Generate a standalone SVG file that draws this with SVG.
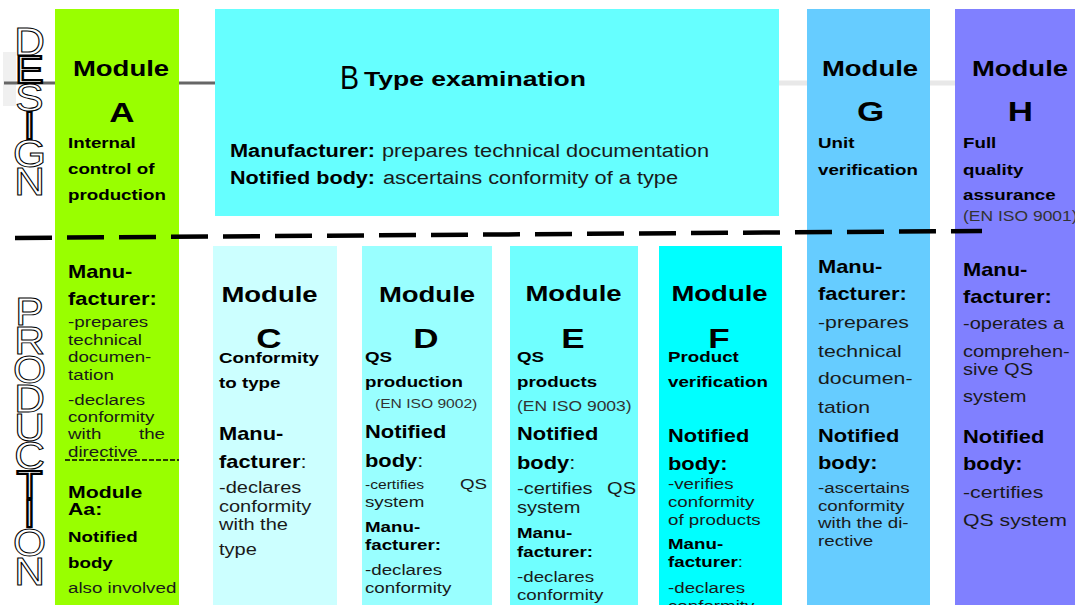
<svg xmlns="http://www.w3.org/2000/svg" width="1075" height="605" viewBox="0 0 1075 605">
<style>
text{font-family:"Liberation Sans",Arial,sans-serif}
.b{font-weight:bold;fill:#000}
.n{font-weight:normal;fill:#1a1a1a}
.mod{font-size:22px}
.let{font-size:28px}
.sub{font-size:15px}
.hd{font-size:17.5px}
.c{text-anchor:middle}
.e{text-anchor:end}
.iso{fill:#333}
.out{font-size:38px;fill:#fff;stroke:#000;stroke-width:1;text-anchor:middle;font-weight:normal}
.thk{stroke-width:2.2}
</style>
<rect width="1075" height="605" fill="#fff"/>
<rect x="3" y="52" width="13" height="54" fill="#f0f0f0"/>
<line x1="779" y1="83" x2="1075" y2="83" stroke="#e8e8e8" stroke-width="5"/>
<line x1="4" y1="83" x2="215" y2="83" stroke="#666" stroke-width="3"/>
<g id="labels">
<text class="out" transform="translate(29.5,0) scale(1.12,1)"><tspan x="0" y="55">D</tspan><tspan x="0" y="83" class="thk">E</tspan><tspan x="0" y="111">S</tspan><tspan x="0" y="139" class="thk">I</tspan><tspan x="0" y="167">G</tspan><tspan x="0" y="195">N</tspan></text>
<text class="out" transform="translate(29.5,0) scale(1.12,1)"><tspan x="0" y="325">P</tspan><tspan x="0" y="354">R</tspan><tspan x="0" y="383">O</tspan><tspan x="0" y="412">D</tspan><tspan x="0" y="441">U</tspan><tspan x="0" y="469">C</tspan><tspan x="0" y="498" class="thk">T</tspan><tspan x="0" y="527" class="thk">I</tspan><tspan x="0" y="556">O</tspan><tspan x="0" y="585">N</tspan></text>
</g>
<g id="moduleA">
<rect x="55" y="9" width="124" height="596" fill="#99ff00"/>
<g transform="translate(68,0) scale(1.25,1)">
<text class="b mod c" x="42.4" y="76">Module</text>
<text class="b let c" x="43.2" y="122">A</text>
<text class="b sub" x="0" y="148">Internal</text>
<text class="b sub" x="0" y="174">control of</text>
<text class="b sub" x="0" y="200">production</text>
<text class="b hd" x="0" y="278">Manu-</text>
<text class="b hd" x="0" y="305">facturer:</text>
<g class="n" font-size="15">
<text x="0" y="327">-prepares</text>
<text x="0" y="345">technical</text>
<text x="0" y="362">documen-</text>
<text x="0" y="380">tation</text>
<text x="0" y="405">-declares</text>
<text x="0" y="422">conformity</text>
<text x="0" y="439">with</text>
<text class="e" x="77.6" y="439">the</text>
<text x="0" y="457">directive</text>
<text x="0" y="593">also involved</text>
</g>
<text class="b" font-size="17" x="0" y="498">Module</text>
<text class="b" font-size="17" x="0" y="515">Aa:</text>
<text class="b sub" x="0" y="542">Notified</text>
<text class="b sub" x="0" y="568">body</text>
</g>
<line x1="65" y1="460" x2="179" y2="460" stroke="#000" stroke-width="1.5" stroke-dasharray="5 2"/>
</g>
<g id="moduleB">
<rect x="215" y="9" width="564" height="207" fill="#66ffff"/>
<text class="n" font-size="34" x="340" y="89" textLength="19" lengthAdjust="spacingAndGlyphs" style="fill:#000">B</text>
<text class="b" font-size="20" x="364" y="86" textLength="222" lengthAdjust="spacingAndGlyphs">Type examination</text>
<text class="b" font-size="18" x="230" y="157" textLength="145" lengthAdjust="spacingAndGlyphs">Manufacturer:</text>
<text class="n" font-size="18" x="382" y="157" textLength="327" lengthAdjust="spacingAndGlyphs">prepares technical documentation</text>
<text class="b" font-size="18" x="230" y="184" textLength="145" lengthAdjust="spacingAndGlyphs">Notified body:</text>
<text class="n" font-size="18" x="383" y="184" textLength="295" lengthAdjust="spacingAndGlyphs">ascertains conformity of a type</text>
</g>
<g id="moduleC">
<rect x="213" y="246" width="124" height="359" fill="#ccffff"/>
<g transform="translate(219,0) scale(1.25,1)">
<text class="b mod c" x="40.4" y="302">Module</text>
<text class="b let c" x="40" y="348">C</text>
<text class="b sub" x="0" y="363">Conformity</text>
<text class="b sub" x="0" y="388">to type</text>
<text class="b hd" x="0" y="440">Manu-</text>
<text class="b hd" x="0" y="468">facturer<tspan class="n">:</tspan></text>
<g class="n" font-size="16">
<text x="0" y="493">-declares</text>
<text x="0" y="512">conformity</text>
<text x="0" y="530">with the</text>
<text x="0" y="555">type</text>
</g>
</g>
</g>
<g id="moduleD">
<rect x="362" y="246" width="130" height="359" fill="#99ffff"/>
<g transform="translate(365,0) scale(1.25,1)">
<text class="b mod c" x="49.6" y="302">Module</text>
<text class="b let c" x="48.8" y="348">D</text>
<text class="b sub" x="0" y="362">QS</text>
<text class="b sub" x="0" y="387">production</text>
<text class="n iso" font-size="12.5" x="8" y="408">(EN ISO 9002)</text>
<text class="b hd" x="0" y="438">Notified</text>
<text class="b hd" x="0" y="467">body<tspan class="n">:</tspan></text>
<text class="n" font-size="12.5" x="0" y="489">-certifies</text>
<text class="n e" font-size="15" x="97.6" y="489">QS</text>
<text class="n" font-size="15" x="0" y="507">system</text>
<text class="b sub" x="0" y="532">Manu-</text>
<text class="b sub" x="0" y="550">facturer:</text>
<text class="n" font-size="15" x="0" y="575">-declares</text>
<text class="n" font-size="15" x="0" y="593">conformity</text>
</g>
</g>
<g id="moduleE">
<rect x="510" y="246" width="128" height="359" fill="#70ffff"/>
<g transform="translate(517,0) scale(1.25,1)">
<text class="b mod c" x="45.2" y="301">Module</text>
<text class="b let c" x="44.8" y="348">E</text>
<text class="b sub" x="0" y="362">QS</text>
<text class="b sub" x="0" y="387">products</text>
<text class="n iso" font-size="14" x="0" y="411">(EN ISO 9003)</text>
<text class="b hd" x="0" y="440">Notified</text>
<text class="b hd" x="0" y="469">body<tspan class="n">:</tspan></text>
<text class="n" font-size="16" x="0" y="494">-certifies</text>
<text class="n e" font-size="16" x="95.2" y="494">QS</text>
<text class="n" font-size="16" x="0" y="513">system</text>
<text class="b sub" x="0" y="538">Manu-</text>
<text class="b sub" x="0" y="557">facturer:</text>
<text class="n" font-size="15" x="0" y="582">-declares</text>
<text class="n" font-size="15" x="0" y="600">conformity</text>
</g>
</g>
<g id="moduleF">
<rect x="659" y="246" width="123" height="359" fill="#00ffff"/>
<g transform="translate(668,0) scale(1.25,1)">
<text class="b mod c" x="41.2" y="301">Module</text>
<text class="b let c" x="40.8" y="348">F</text>
<text class="b sub" x="0" y="362">Product</text>
<text class="b sub" x="0" y="387">verification</text>
<text class="b hd" x="0" y="442">Notified</text>
<text class="b hd" x="0" y="470">body:</text>
<g class="n" font-size="15">
<text x="0" y="489">-verifies</text>
<text x="0" y="507">conformity</text>
<text x="0" y="525">of products</text>
<text x="0" y="593">-declares</text>
<text x="0" y="611">conformity</text>
</g>
<text class="b sub" x="0" y="549">Manu-</text>
<text class="b sub" x="0" y="567">facturer<tspan class="n">:</tspan></text>
</g>
</g>
<g id="moduleG">
<rect x="807" y="9" width="123" height="596" fill="#66ccff"/>
<g transform="translate(818,0) scale(1.25,1)">
<text class="b mod c" x="41.6" y="76">Module</text>
<text class="b let c" x="42" y="121">G</text>
<text class="b sub" x="0" y="148">Unit</text>
<text class="b sub" x="0" y="175">verification</text>
<text class="b hd" x="0" y="273">Manu-</text>
<text class="b hd" x="0" y="300">facturer:</text>
<g class="n" font-size="17">
<text x="0" y="328">-prepares</text>
<text x="0" y="357">technical</text>
<text x="0" y="384">documen-</text>
<text x="0" y="413">tation</text>
</g>
<text class="b hd" x="0" y="442">Notified</text>
<text class="b hd" x="0" y="469">body:</text>
<g class="n" font-size="15">
<text x="0" y="493">-ascertains</text>
<text x="0" y="511">conformity</text>
<text x="0" y="528">with the di-</text>
<text x="0" y="546">rective</text>
</g>
</g>
</g>
<g id="moduleH">
<rect x="955" y="9" width="120" height="596" fill="#8080ff"/>
<g transform="translate(963,0) scale(1.25,1)">
<text class="b mod c" x="45.6" y="76">Module</text>
<text class="b let c" x="46" y="121">H</text>
<text class="b sub" x="0" y="148">Full</text>
<text class="b sub" x="0" y="175">quality</text>
<text class="b sub" x="0" y="200">assurance</text>
<text class="n iso" font-size="14" x="0" y="221">(EN ISO 9001)</text>
<text class="b hd" x="0" y="276">Manu-</text>
<text class="b hd" x="0" y="303">facturer:</text>
<g class="n" font-size="16">
<text x="0" y="329">-operates a</text>
<text x="0" y="357">comprehen-</text>
<text x="0" y="375">sive QS</text>
<text x="0" y="402">system</text>
</g>
<text class="b hd" x="0" y="443">Notified</text>
<text class="b hd" x="0" y="470">body:</text>
<text class="n" font-size="17" x="0" y="498">-certifies</text>
<text class="n" font-size="17" x="0" y="526">QS system</text>
</g>
</g>
<g id="connectors">
<line x1="15" y1="238" x2="982" y2="231" stroke="#000" stroke-width="4.5" stroke-dasharray="37 15"/>
</g>
</svg>
